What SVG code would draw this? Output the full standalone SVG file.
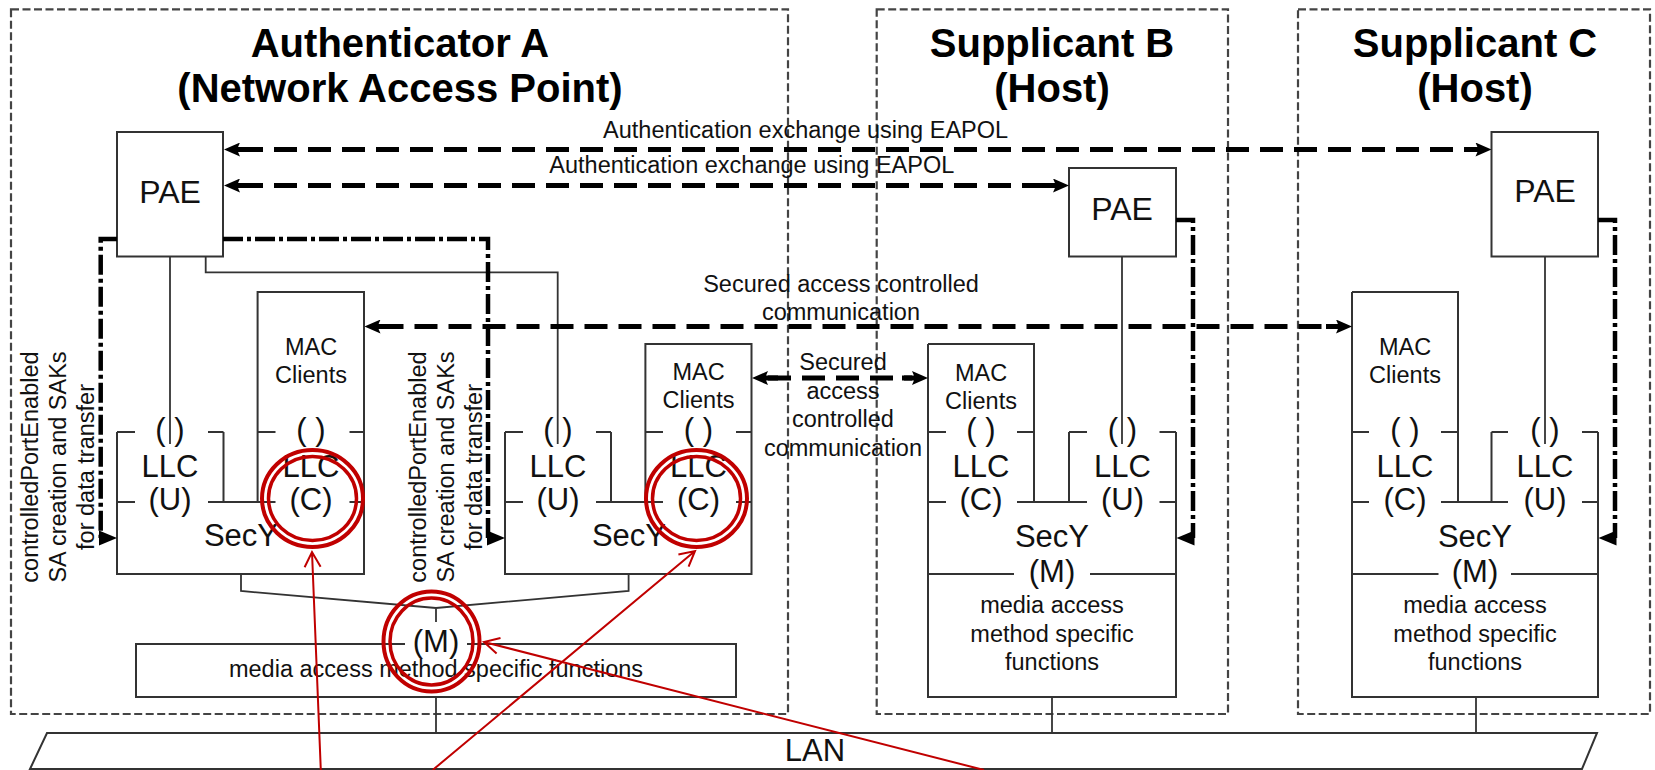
<svg xmlns="http://www.w3.org/2000/svg" width="1655" height="770" viewBox="0 0 1655 770">
<style>
text{font-family:"Liberation Sans",Arial,sans-serif;fill:#111}
.title{font-size:40px;font-weight:bold;text-anchor:middle;fill:#000}
.lbl{font-size:23.5px;text-anchor:middle}
.big{font-size:31px;text-anchor:middle}
.pae{font-size:32px;text-anchor:middle}
.box{fill:none;stroke:#333;stroke-width:2}
.thin{fill:none;stroke:#333;stroke-width:1.8}
.grp{fill:none;stroke:#444;stroke-width:2.2;stroke-dasharray:8 3.5}
.dash{fill:none;stroke:#000;stroke-width:5;stroke-dasharray:23 11}
.dd{fill:none;stroke:#000;stroke-width:4.5;stroke-dasharray:20 4 4 4}
.ddh{fill:#000}
.red{fill:none;stroke:#C00000}
</style>
<defs>
<marker id="ah" viewBox="-10 0 26 14" refX="0" refY="7" markerWidth="26" markerHeight="14" markerUnits="userSpaceOnUse" orient="auto-start-reverse">
<path d="M-10,4.5H3V9.5H-10Z M0,0L16,7L0,14L3,7Z" fill="#000"/>
</marker>
</defs>
<rect width="1655" height="770" fill="#fff"/>

<g id="station-A">
<rect class="grp" x="11" y="9.3" width="777" height="704.7"/>
<text class="title" x="400" y="57">Authenticator A</text>
<text class="title" x="400" y="101.5">(Network Access Point)</text>
</g>
<g id="station-B">
<rect class="grp" x="876.7" y="9.3" width="351.3" height="704.7"/>
<text class="title" x="1052" y="56.5">Supplicant B</text>
<text class="title" x="1052" y="101.5">(Host)</text>
</g>
<g id="station-C">
<rect class="grp" x="1298" y="9.3" width="352" height="704.7"/>
<text class="title" x="1475" y="56.5">Supplicant C</text>
<text class="title" x="1475" y="101.5">(Host)</text>
</g>

<g id="pae-A">
<rect class="box" x="117" y="132" width="106" height="124.5"/>
<text class="pae" x="170" y="203">PAE</text>
</g>
<g id="pae-B">
<rect class="box" x="1069" y="168" width="107" height="88.5"/>
<text class="pae" x="1122" y="220">PAE</text>
</g>
<g id="pae-C">
<rect class="box" x="1491.5" y="132" width="106.5" height="124.5"/>
<text class="pae" x="1545" y="202">PAE</text>
</g>

<g id="secy-A1">
<path class="box" d="M117,432V574H364V292H257.6V502 M223.5,432V502 M117,432H135 M208,432H223.5 M257.6,432H275.5 M349.5,432H364 M117,502H135 M208,502H275.5 M349.5,502H364"/>
<text class="lbl" x="311" y="355">MAC</text>
<text class="lbl" x="311" y="383">Clients</text>
<text class="big" x="170" y="440">( )</text>
<text class="big" x="170" y="477">LLC</text>
<text class="big" x="170" y="510">(U)</text>
<text class="big" x="311" y="440">( )</text>
<text class="big" x="311" y="477">LLC</text>
<text class="big" x="311" y="510">(C)</text>
<text class="big" x="241" y="546">SecY</text>
</g>

<g id="secy-A2">
<path class="box" d="M505,432V574H751.5V344H645.4V502 M611,432V502 M505,432H523 M596,432H611 M645.4,432H663 M736,432H751.5 M505,502H523 M596,502H663 M736,502H751.5"/>
<text class="lbl" x="698.5" y="380">MAC</text>
<text class="lbl" x="698.5" y="408">Clients</text>
<text class="big" x="558" y="440">( )</text>
<text class="big" x="558" y="477">LLC</text>
<text class="big" x="558" y="510">(U)</text>
<text class="big" x="698.5" y="440">( )</text>
<text class="big" x="698.5" y="477">LLC</text>
<text class="big" x="698.5" y="510">(C)</text>
<text class="big" x="629" y="546">SecY</text>
</g>

<g id="media-A">
<path class="box" d="M405,644H136V697H736V644H467"/>
<text class="big" x="436" y="652">(M)</text>
<text class="lbl" x="436" y="677">media access method specific functions</text>
</g>

<g id="stack-B">
<path class="box" d="M928,344V697H1176V432 M928,344H1034V502 M1069,432V502 M928,574H1014 M1090,574H1176 M928,432H946 M1017,432H1034 M1069,432H1087 M1159.5,432H1176 M928,502H946 M1017,502H1087 M1159.5,502H1176"/>
<text class="lbl" x="981" y="381">MAC</text>
<text class="lbl" x="981" y="409">Clients</text>
<text class="big" x="981" y="440">( )</text>
<text class="big" x="981" y="477">LLC</text>
<text class="big" x="981" y="510">(C)</text>
<text class="big" x="1122.5" y="440">( )</text>
<text class="big" x="1122.5" y="477">LLC</text>
<text class="big" x="1122.5" y="510">(U)</text>
<text class="big" x="1052" y="547">SecY</text>
<text class="big" x="1052" y="582">(M)</text>
<text class="lbl" x="1052" y="613">media access</text>
<text class="lbl" x="1052" y="641.5">method specific</text>
<text class="lbl" x="1052" y="670">functions</text>
</g>

<g id="stack-C">
<path class="box" d="M1352,292V697H1598V432 M1352,292H1458V502 M1491.5,432V502 M1352,574H1438.5 M1511,574H1598 M1352,432H1369 M1441,432H1458 M1491.5,432H1508 M1582,432H1598 M1352,502H1369 M1441,502H1508 M1582,502H1598"/>
<text class="lbl" x="1405" y="355">MAC</text>
<text class="lbl" x="1405" y="383">Clients</text>
<text class="big" x="1405" y="440">( )</text>
<text class="big" x="1405" y="477">LLC</text>
<text class="big" x="1405" y="510">(C)</text>
<text class="big" x="1545" y="440">( )</text>
<text class="big" x="1545" y="477">LLC</text>
<text class="big" x="1545" y="510">(U)</text>
<text class="big" x="1475" y="547">SecY</text>
<text class="big" x="1475" y="582">(M)</text>
<text class="lbl" x="1475" y="613">media access</text>
<text class="lbl" x="1475" y="641.5">method specific</text>
<text class="lbl" x="1475" y="670">functions</text>
</g>

<g id="lan">
<polygon class="box" points="47,733 1597,733 1582,769 30,769"/>
<text class="big" x="815" y="761">LAN</text>
</g>

<g id="connectors">
<path class="thin" d="M170,256.5V444 M205.7,256.5V272.3H557.7V444 M1122,256.5V444 M1545,256.5V444"/>
<path class="thin" d="M241,574V591L436,608L628.6,591V574 M436,608V622 M436,697V733 M1052,697V733 M1476,697V733"/>
<path class="dd" d="M117,239H100.7V538"/>
<path class="dd" d="M223,239H488V538"/>
<path class="dd" d="M1176,220H1193V538"/>
<path class="dd" d="M1598,220H1615V538"/>
<polygon class="ddh" points="99,530.5 117,538 99,545.5"/>
<polygon class="ddh" points="487,530.5 505,538 487,545.5"/>
<polygon class="ddh" points="1194.5,530.5 1176.5,538 1194.5,545.5"/>
<polygon class="ddh" points="1616.5,530.5 1598.5,538 1616.5,545.5"/>
<path class="dash" d="M240,149.5H1475.5" marker-start="url(#ah)" marker-end="url(#ah)"/>
<path class="dash" d="M240,185.5H1053" marker-start="url(#ah)" marker-end="url(#ah)"/>
<path class="dash" d="M380.5,326.5H1336" marker-start="url(#ah)" marker-end="url(#ah)"/>
<path class="dash" d="M768,378H912" marker-start="url(#ah)" marker-end="url(#ah)"/>
<text class="lbl" x="805.6" y="138">Authentication exchange using EAPOL</text>
<text class="lbl" x="751.8" y="173">Authentication exchange using EAPOL</text>
<text class="lbl" x="841" y="292">Secured access controlled</text>
<text class="lbl" x="841" y="320">communication</text>
<text class="lbl" x="843" y="370">Secured</text>
<text class="lbl" x="843" y="398.5">access</text>
<text class="lbl" x="843" y="427">controlled</text>
<text class="lbl" x="843" y="455.5">communication</text>
<text class="lbl" transform="translate(38,467) rotate(-90)">controlledPortEnabled</text>
<text class="lbl" transform="translate(66,467) rotate(-90)">SA creation and SAKs</text>
<text class="lbl" transform="translate(94,467) rotate(-90)">for data transfer</text>
<text class="lbl" transform="translate(426,467) rotate(-90)">controlledPortEnabled</text>
<text class="lbl" transform="translate(454,467) rotate(-90)">SA creation and SAKs</text>
<text class="lbl" transform="translate(482,467) rotate(-90)">for data transfer</text>
</g>

<g id="annotations">
<ellipse class="red" cx="312.5" cy="498.5" rx="50.5" ry="48.5" stroke-width="4"/>
<ellipse class="red" cx="312.5" cy="498.5" rx="44" ry="42" stroke-width="3.5"/>
<ellipse class="red" cx="696.5" cy="498.5" rx="50.5" ry="48.5" stroke-width="4"/>
<ellipse class="red" cx="696.5" cy="498.5" rx="44" ry="42" stroke-width="3.5"/>
<ellipse class="red" cx="431.5" cy="641.5" rx="48" ry="50" stroke-width="4"/>
<ellipse class="red" cx="431.5" cy="641.5" rx="41.5" ry="43.5" stroke-width="3.5"/>
<path class="red" stroke-width="2" d="M320.8,770L312,552 M304.6,567.3L312,552L320.6,566.7"/>
<path class="red" stroke-width="2" d="M432.7,770L695,551 M678.4,554.5L695,551L688.6,566.7"/>
<path class="red" stroke-width="2" d="M984,770L484,642 M496.6,653.4L484,642L500.5,638"/>
</g>
</svg>
